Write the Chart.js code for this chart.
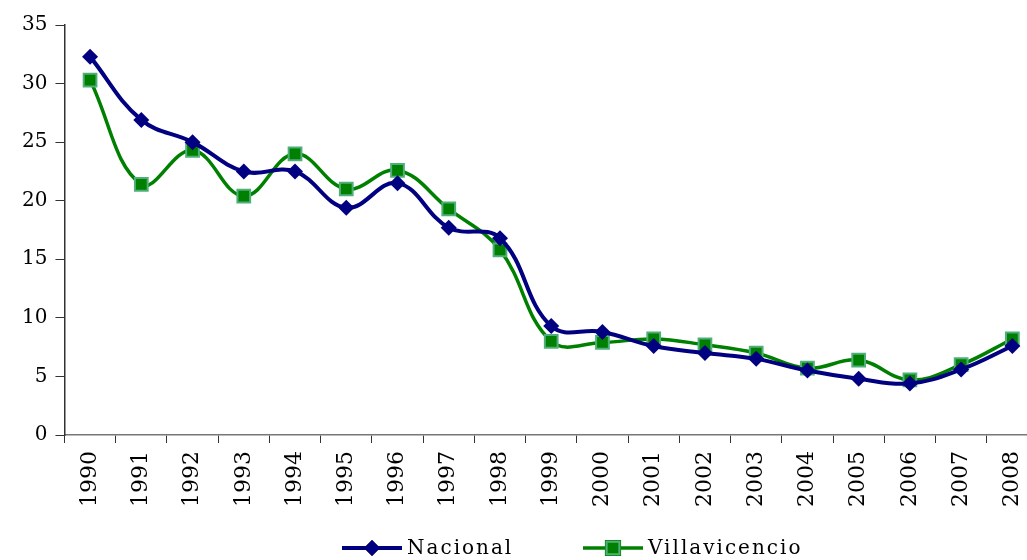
<!DOCTYPE html>
<html>
<head>
<meta charset="utf-8">
<script src="https://cdn.jsdelivr.net/npm/chart.js@4"></script>
<style>
  html, body { margin: 0; padding: 0; background: #fff; overflow: hidden; }
  #wrap { width: 1049px; height: 560px; }
</style>
</head>
<body>
<div id="wrap"><canvas id="desempleoChart"></canvas></div>
<script>
// data
const years = ['1990', '1991', '1992', '1993', '1994', '1995', '1996', '1997', '1998', '1999',
  '2000', '2001', '2002', '2003', '2004', '2005', '2006', '2007', '2008'];
const nacional = [32.3, 26.9, 25.0, 22.5, 22.5, 19.4, 21.5, 17.7, 16.8, 9.3,
  8.8, 7.6, 7.0, 6.5, 5.5, 4.8, 4.4, 5.6, 7.6];
const villavicencio = [30.3, 21.4, 24.3, 20.4, 24.0, 21.0, 22.6, 19.3, 15.8, 8.0,
  7.9, 8.2, 7.7, 7.0, 5.7, 6.4, 4.7, 6.0, 8.2];
const yTicks = [0, 5, 10, 15, 20, 25, 30, 35];

const serif = "'DejaVu Serif', serif";
const NAVY = '#000080';
const GREEN = '#008000';

// legend drawn by hand: line + marker + text, like the office chart
const legendPlugin = {
  id: 'lineLegend',
  afterDraw(chart) {
    const ctx = chart.ctx;
    const y = 548;
    const items = [
      { x: 342, text: 'Nacional', ds: chart.data.datasets[0] },
      { x: 583, text: 'Villavicencio', ds: chart.data.datasets[1] }
    ];
    ctx.save();
    items.forEach(it => {
      ctx.strokeStyle = it.ds.borderColor;
      ctx.lineWidth = it.ds.borderWidth;
      ctx.beginPath();
      ctx.moveTo(it.x, y);
      ctx.lineTo(it.x + 60, y);
      ctx.stroke();
      Chart.helpers.drawPoint(ctx, {
        pointStyle: it.ds.pointStyle,
        radius: it.ds.pointRadius,
        borderWidth: it.ds.pointBorderWidth
      }, it.x + 30, y);
      ctx.fillStyle = it.ds.pointBackgroundColor;
      ctx.strokeStyle = it.ds.pointBorderColor;
      ctx.lineWidth = it.ds.pointBorderWidth;
      ctx.fill();
      if (it.ds.pointBorderWidth) ctx.stroke();
      ctx.fillStyle = '#000';
      ctx.font = '20px ' + serif;
      ctx.letterSpacing = '2px';
      ctx.textBaseline = 'middle';
      ctx.fillText(it.text, it.x + 65, y + 1);
    });
    ctx.restore();
  }
};

const ctxEl = document.getElementById('desempleoChart');

var lineChart = new Chart(ctxEl, {
  type: 'line',
  data: {
    labels: years,
    datasets: [
      {
        label: 'Nacional',
        data: nacional,
        borderColor: NAVY,
        borderWidth: 4,
        tension: 0.4,
        pointStyle: 'rectRot',
        pointRadius: 8,
        pointBackgroundColor: NAVY,
        pointBorderColor: NAVY,
        pointBorderWidth: 0
      },
      {
        label: 'Villavicencio',
        data: villavicencio,
        borderColor: GREEN,
        borderWidth: 3.5,
        tension: 0.4,
        pointStyle: 'rect',
        pointRadius: 9,
        pointBackgroundColor: GREEN,
        pointBorderColor: '#4fae7a',
        pointBorderWidth: 2
      }
    ]
  },
  options: {
    responsive: true,
    maintainAspectRatio: false,
    animation: false,
    layout: {
      padding: { top: 25, left: 14, right: 0, bottom: 45 }
    },
    plugins: {
      legend: { display: false },
      tooltip: { enabled: false }
    },
    scales: {
      x: {
        offset: true,
        grid: { offset: true, drawOnChartArea: false, drawTicks: true, tickLength: 8, color: '#333' },
        border: { color: '#777', width: 1.5 },
        ticks: {
          maxRotation: 90,
          minRotation: 90,
          autoSkip: false,
          color: '#000',
          padding: 8,
          font: { family: serif, size: 22 }
        }
      },
      y: {
        min: 0,
        max: 35,
        afterBuildTicks(axis) {
          axis.ticks = yTicks.map(v => ({ value: v }));
        },
        grid: { drawOnChartArea: false, drawTicks: true, tickLength: 9, color: '#333' },
        border: { color: '#333', width: 1.5 },
        ticks: {
          color: '#000',
          padding: 8,
          font: { family: serif, size: 20 }
        }
      }
    }
  },
  plugins: [legendPlugin]
});
</script>
</body>
</html>
